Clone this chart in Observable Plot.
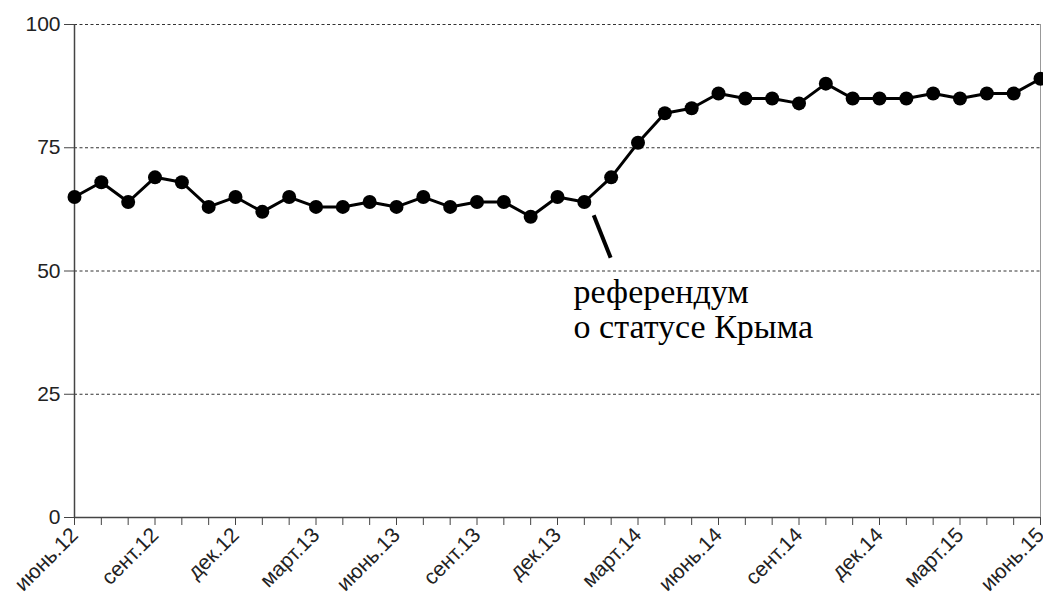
<!DOCTYPE html>
<html>
<head>
<meta charset="utf-8">
<script src="https://cdn.jsdelivr.net/npm/d3@7"></script>
<script src="https://cdn.jsdelivr.net/npm/@observablehq/plot@0.6"></script>
<style>
  html, body { margin: 0; padding: 0; background: #fff; }
  #chart { width: 1043px; height: 601px; overflow: hidden; }
</style>
</head>
<body>
<div id="chart"></div>
<script>
// Monthly series, June 2012 – June 2015
const months = [
  "июнь.12","июль.12","авг.12","сент.12","окт.12","нояб.12","дек.12",
  "янв.13","февр.13","март.13","апр.13","май.13","июнь.13","июль.13","авг.13","сент.13","окт.13","нояб.13","дек.13",
  "янв.14","февр.14","март.14","апр.14","май.14","июнь.14","июль.14","авг.14","сент.14","окт.14","нояб.14","дек.14",
  "янв.15","февр.15","март.15","апр.15","май.15","июнь.15"
];
const values = [
  65, 68, 64, 69, 68, 63, 65,
  62, 65, 63, 63, 64, 63, 65, 63, 64, 64, 61, 65,
  64, 69, 76, 82, 83, 86, 85, 85, 84, 88, 85, 85,
  85, 86, 85, 86, 86, 89
];
const tickLabels = ["июнь.12","сент.12","дек.12","март.13","июнь.13","сент.13","дек.13","март.14","июнь.14","сент.14","дек.14","март.15","июнь.15"];
const yTicks = [0, 25, 50, 75, 100];
const gridValues = [25, 50, 75, 100];
// annotation pointer (in month-index / value units) and label
const pointer = [{x1: 19.35, y1: 61.3, x2: 19.98, y2: 52.7}];
const note = [{x: 18.6, y: 48.6, text: "референдум\nо статусе Крыма"}];

const data = months.map((m, i) => ({i, month: m, value: values[i]}));
const labelSet = new Set(tickLabels);

const chart = Plot.plot({
  width: 1043,
  height: 601,
  marginLeft: 74,
  marginRight: 3,
  marginTop: 24,
  marginBottom: 84,
  style: {fontFamily: "Liberation Sans, Arial, sans-serif", background: "#fff", color: "#000"},
  x: {type: "linear", domain: [0, months.length - 1]},
  y: {domain: [0, 100]},
  marks: [
    Plot.ruleY(gridValues, {stroke: "#333", strokeWidth: 1, strokeDasharray: "3,2.5"}),
    Plot.ruleX([months.length - 1], {stroke: "#999", strokeWidth: 1}),
    Plot.ruleX([0], {stroke: "#444", strokeWidth: 1.5}),
    Plot.ruleY([0], {stroke: "#444", strokeWidth: 1.5}),
    Plot.axisY({ticks: yTicks, tickSize: 10, tickPadding: 4, fontSize: 21, label: null, stroke: "#444", fill: "#222"}),
    Plot.axisX({
      ticks: d3.range(months.length),
      tickFormat: i => labelSet.has(months[i]) ? months[i] : "",
      tickSize: 8, tickPadding: 6, tickRotate: -45, fontSize: 21, label: null, stroke: "#444", fill: "#222"
    }),
    Plot.line(data, {x: "i", y: "value", stroke: "#000", strokeWidth: 3}),
    Plot.dot(data, {x: "i", y: "value", r: 7, fill: "#000", stroke: "none"}),
    Plot.link(pointer, {x1: "x1", y1: "y1", x2: "x2", y2: "y2", stroke: "#000", strokeWidth: 4}),
    Plot.text(note, {x: "x", y: "y", text: "text", textAnchor: "start", lineAnchor: "top",
      fontFamily: "Liberation Serif, Times New Roman, serif", fontSize: 34, lineHeight: 1.03, fill: "#000"})
  ]
});
document.getElementById("chart").appendChild(chart);
</script>
</body>
</html>
